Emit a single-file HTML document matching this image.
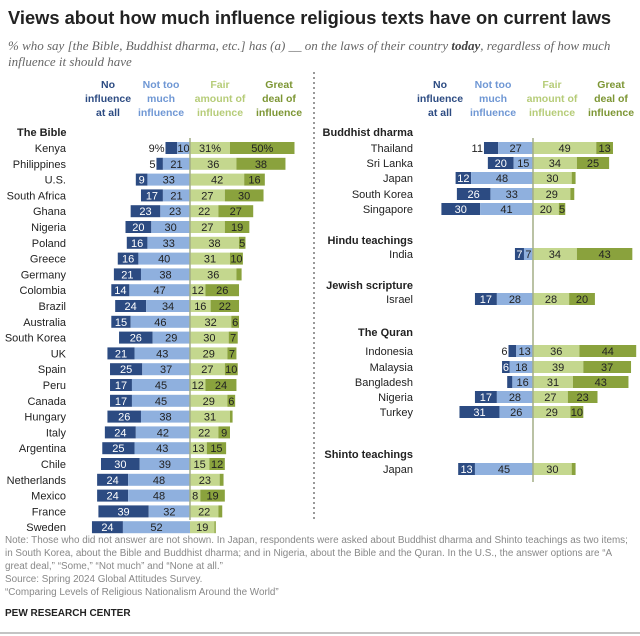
<!DOCTYPE html>
<html><head><meta charset="utf-8"><style>
body{margin:0;background:#fff;font-family:"Liberation Sans",sans-serif}
#wrap{position:relative;width:640px;height:636px;overflow:hidden}
</style></head><body>
<div id="wrap">
<svg id="svg" width="640" height="636" xmlns="http://www.w3.org/2000/svg" font-family="Liberation Sans, sans-serif">
<text x="8" y="24" font-size="18.3" font-weight="bold" fill="#222">Views about how much influence religious texts have on current laws</text>
<text x="8" y="50" font-size="13" font-style="italic" fill="#666" font-family="Liberation Serif, serif">% who say [the Bible, Buddhist dharma, etc.] has (a) __ on the laws of their country <tspan font-weight="bold" fill="#444">today</tspan>, regardless of how much</text>
<text x="8" y="66" font-size="13" font-style="italic" fill="#666" font-family="Liberation Serif, serif">influence it should have</text>
<line x1="314" y1="72" x2="314" y2="522" stroke="#999" stroke-width="2" stroke-dasharray="2,3"/>
<g id="plot"></g>
<g font-size="9.9" fill="#888">
<text x="5" y="543">Note: Those who did not answer are not shown. In Japan, respondents were asked about Buddhist dharma and Shinto teachings as two items;</text>
<text x="5" y="556">in South Korea, about the Bible and Buddhist dharma; and in Nigeria, about the Bible and the Quran. In the U.S., the answer options are “A</text>
<text x="5" y="569">great deal,” “Some,” “Not much” and “None at all.”</text>
<text x="5" y="582">Source: Spring 2024 Global Attitudes Survey.</text>
<text x="5" y="595">“Comparing Levels of Religious Nationalism Around the World”</text>
</g>
<text x="5" y="616" font-size="10" font-weight="bold" fill="#222">PEW RESEARCH CENTER</text>
<line x1="0" y1="633" x2="640" y2="633" stroke="#888" stroke-width="1"/>
</svg>
</div>
<script>
// Left panel: The Bible
const bibleCountries=["Kenya","Philippines","U.S.","South Africa","Ghana","Nigeria","Poland","Greece","Germany","Colombia","Brazil","Australia","South Korea","UK","Spain","Peru","Canada","Hungary","Italy","Argentina","Chile","Netherlands","Mexico","France","Sweden"];
const bibleNone=[9,5,9,17,23,20,16,16,21,14,24,15,26,21,25,17,17,26,24,25,30,24,24,39,24];
const bibleNotMuch=[10,21,33,21,23,30,33,40,38,47,34,46,29,43,37,45,45,38,42,43,39,48,48,32,52];
const bibleFair=[31,36,42,27,22,27,38,31,36,12,16,32,30,29,27,12,29,31,22,13,15,23,8,22,19];
const bibleGreat=[50,38,16,30,27,19,5,10,4,26,22,6,7,7,10,24,6,2,9,15,12,3,19,3,1];
// Right panel groups
const rightGroups=["Buddhist dharma","Hindu teachings","Jewish scripture","The Quran","Shinto teachings"];
const rightCountries=["Thailand","Sri Lanka","Japan","South Korea","Singapore","India","Israel","Indonesia","Malaysia","Bangladesh","Nigeria","Turkey","Japan"];
const rightGroupIndex=[0,0,0,0,0,1,2,3,3,3,3,3,4];
const rightNone=[11,20,12,26,30,7,17,6,6,4,17,31,13];
const rightNotMuch=[27,15,48,33,41,7,28,13,18,16,28,26,45];
const rightFair=[49,34,30,29,20,34,28,36,39,31,27,29,30];
const rightGreat=[13,25,3,3,5,43,20,44,37,43,23,10,3];

const S=1.29, BH=12;
const C=["#2c4b82","#8fb0de","#c4d78e","#8aa23d"];
const HC=["#2c4b82","#6f97d4","#b6cc78","#7d9634"];
const svg=document.getElementById('plot');
const NS="http://www.w3.org/2000/svg";
function el(t,a,p){const e=document.createElementNS(NS,t);for(const k in a)e.setAttribute(k,a[k]);(p||svg).appendChild(e);return e;}
function txt(x,y,s,a){const e=el('text',Object.assign({x:x,y:y},a));e.textContent=s;return e;}

function headers(xs){
  const cols=[["No","influence","at all"],["Not too","much","influence"],["Fair","amount of","influence"],["Great","deal of","influence"]];
  cols.forEach((c,i)=>c.forEach((l,j)=>{
    const t=txt(xs[i],88+j*14,l,{'font-size':10.5,'font-weight':'bold','fill':HC[i],'text-anchor':'middle'});
    
    
  }));
}
function row(cx,y,labelX,name,v,pct,outsideNone){
  const t=txt(labelX,y+4,name,{'font-size':11,'fill':'#222','text-anchor':'end'});
  
  
  const segs=[[cx-(v[0]+v[1])*S,v[0]*S],[cx-v[1]*S,v[1]*S],[cx,v[2]*S],[cx+v[2]*S,v[3]*S]];
  segs.forEach((s,i)=>{
    const r=el('rect',{x:s[0],y:y-BH/2,width:s[1],height:BH,fill:C[i]});
    
    
    let lab=v[i]+((pct&&i!=1)?'%':'');
    if(v[i]<5&&!(i==2))return;
    let col=i==0?'#fff':'#222';
    let x=s[0]+s[1]/2, anchor='middle';
    if(i==0&&outsideNone){x=s[0]-1;anchor='end';col='#222';}
    const l=txt(x,y+4,lab,{'font-size':11,'fill':col,'text-anchor':anchor});
    
    
  });
}
// left panel
const LCX=190;
headers([108,161,220,279]);
let h=txt(17,136,"The Bible",{'font-size':11,'font-weight':'bold','fill':'#222'});


bibleCountries.forEach((c,i)=>{
  row(LCX,148+i*15.8,66,c,[bibleNone[i],bibleNotMuch[i],bibleFair[i],bibleGreat[i]],i==0,i<2);
});
el('line',{x1:LCX,y1:138,x2:LCX,y2:520,stroke:'#a3ad86','stroke-width':1.5});
// right panel
const RCX=533;
headers([440,493,552,611]);
const rowY=[148,163,178,194,209,254,299,351,367,382,397,412,469];
const headY=[136,244,289,336,458];
rightGroups.forEach((g,i)=>{
  const t=txt(413,headY[i],g,{'font-size':11,'font-weight':'bold','fill':'#222','text-anchor':'end'});
  
  
});
rightCountries.forEach((c,i)=>{
  row(RCX,rowY[i],413,c,[rightNone[i],rightNotMuch[i],rightFair[i],rightGreat[i]],false,i==0||i==7);
});
el('line',{x1:RCX,y1:138,x2:RCX,y2:482,stroke:'#a3ad86','stroke-width':1.5});
</script>
</body></html>
